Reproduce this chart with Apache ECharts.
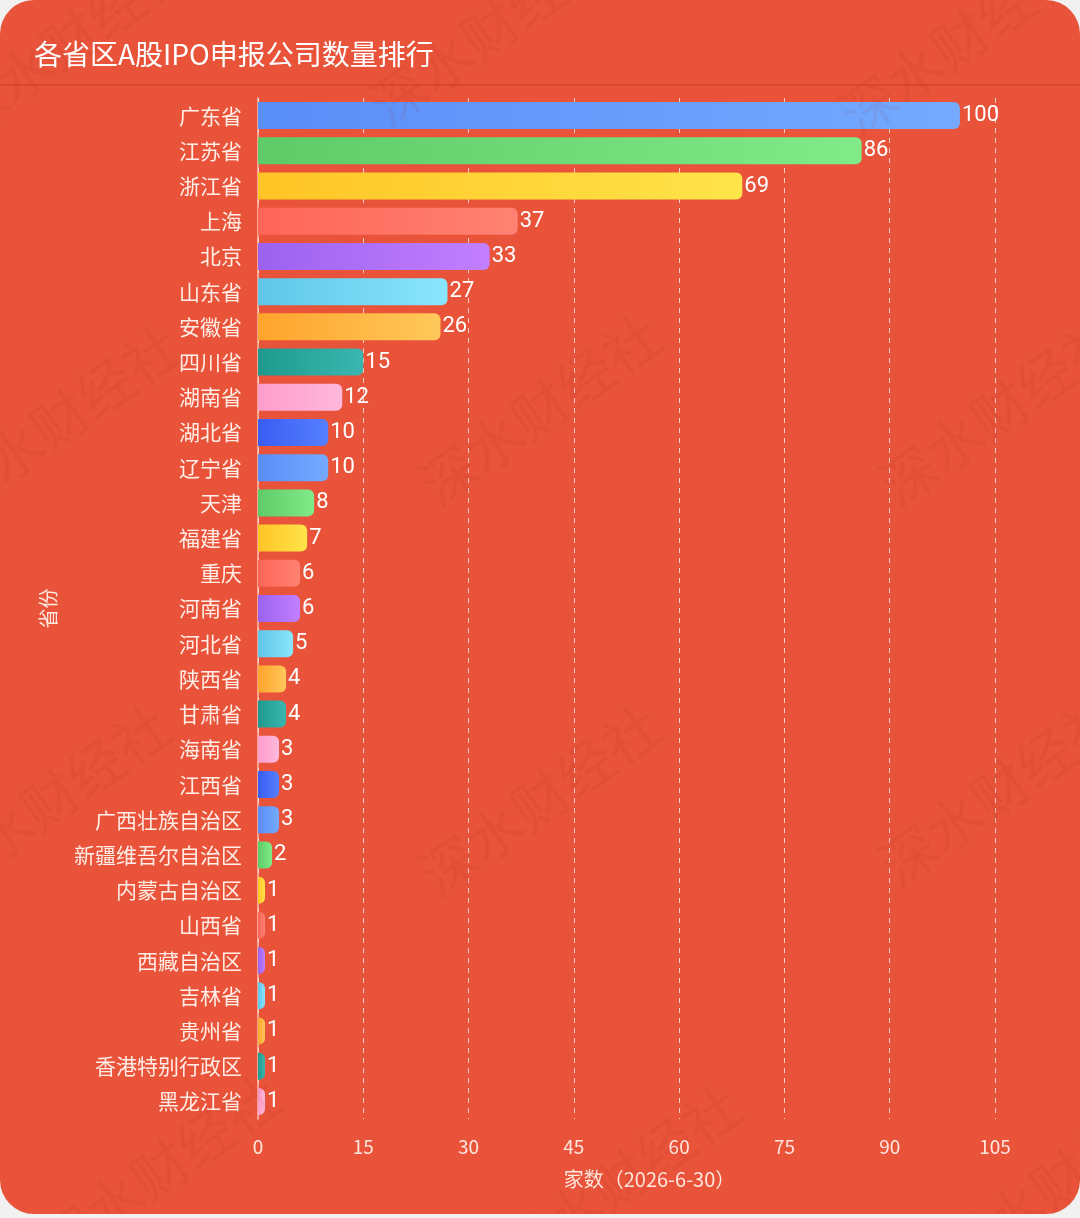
<!DOCTYPE html>
<html>
<head>
<meta charset="utf-8">
<script src="https://cdn.jsdelivr.net/npm/echarts@6/dist/echarts.min.js"></script>
<style>
  html, body { margin: 0; padding: 0; background: #f1f1f1; }
  #main { width: 1080px; height: 1214px; background: #E8533A; border-radius: 34px; overflow: hidden; }
</style>
</head>
<body>
<div id="main"></div>
<script>
const provinces = ['广东省','江苏省','浙江省','上海','北京','山东省','安徽省','四川省','湖南省','湖北省','辽宁省','天津','福建省','重庆','河南省','河北省','陕西省','甘肃省','海南省','江西省','广西壮族自治区','新疆维吾尔自治区','内蒙古自治区','山西省','西藏自治区','吉林省','贵州省','香港特别行政区','黑龙江省'];
const counts = [100,86,69,37,33,27,26,15,12,10,10,8,7,6,6,5,4,4,3,3,3,2,1,1,1,1,1,1,1];
const xTicks = { min: 0, max: 105, interval: 15 };
const titleText = '各省区A股IPO申报公司数量排行';
const xName = '家数（2026-6-30）';
const yName = '省份';

const gradStart = ['#5A8EF8','#5DCB68','#FFC425','#FF6558','#9C62EF','#5FC6E8','#FFA42C','#1E9A8D','#FF9DCB','#3A5CF2'];
const gradEnd   = ['#75AAFF','#80EB88','#FFE44A','#FF8272','#C27FFF','#8AE6FD','#FFC85A','#3BB6B0','#FFB8DC','#5580FF'];

const fontCJK = '"Noto Sans CJK SC", "Noto Sans", sans-serif';

const chart = echarts.init(document.getElementById('main'));

const barData = counts.map((v, i) => ({
  value: v,
  itemStyle: {
    color: new echarts.graphic.LinearGradient(0, 0, 1, 0, [
      { offset: 0, color: gradStart[i % 10] },
      { offset: 1, color: gradEnd[i % 10] }
    ])
  }
}));

const wm = [];
const wmPos = [[70,40],[490,30],[960,40],[60,420],[540,410],[1000,410],[50,800],[540,800],[1000,790],[160,1170],[620,1180],[1060,1180]];
wmPos.forEach(p => wm.push({
  type: 'text', x: p[0], y: p[1], rotation: 0.62, z: 100, silent: true,
  style: { text: '深水财经社', font: '56px "Noto Sans CJK SC"', fill: 'rgba(150,30,10,0.07)', textAlign: 'center', textVerticalAlign: 'middle' }
}));

chart.setOption({
  backgroundColor: 'transparent',
  animation: false,
  title: {
    text: titleText, left: 29, top: 35,
    textStyle: { color: '#ffffff', fontSize: 28, fontWeight: 'normal', fontFamily: fontCJK }
  },
  graphic: [
    { type: 'line', shape: { x1: 0, y1: 85, x2: 1080, y2: 85 }, style: { stroke: 'rgba(160,35,15,0.45)', lineWidth: 1 }, silent: true }
  ].concat(wm),
  grid: { left: 258, right: 85, top: 98, bottom: 95, containLabel: false },
  xAxis: {
    type: 'value', min: xTicks.min, max: xTicks.max, interval: xTicks.interval,
    name: xName, nameLocation: 'middle', nameGap: 50,
    nameTextStyle: { color: '#FFE6DE', fontSize: 20, fontFamily: fontCJK, padding: [0, 0, 0, 46] },
    axisLine: { show: false }, axisTick: { show: false },
    axisLabel: { color: '#FFE6DE', fontSize: 19, margin: 18, fontFamily: fontCJK },
    splitLine: { show: true, lineStyle: { color: 'rgba(255,235,225,0.8)', type: [5, 5], width: 1 } }
  },
  yAxis: {
    type: 'category', data: provinces, inverse: true,
    name: yName, nameLocation: 'middle', nameGap: 200,
    nameTextStyle: { color: '#FFE6DE', fontSize: 20, fontFamily: fontCJK },
    axisLine: { show: true, lineStyle: { color: 'rgba(255,225,215,0.75)', width: 1.5 } },
    axisTick: { show: false },
    axisLabel: { color: '#FFEDE6', fontSize: 21, margin: 16, fontFamily: fontCJK }
  },
  series: [{
    type: 'bar', data: barData, barWidth: 27,
    itemStyle: { borderRadius: [0, 6, 6, 0] },
    label: { show: true, position: 'right', distance: 2, color: '#ffffff', fontSize: 22, fontFamily: '"Roboto", sans-serif' }
  }]
});
</script>
</body>
</html>
